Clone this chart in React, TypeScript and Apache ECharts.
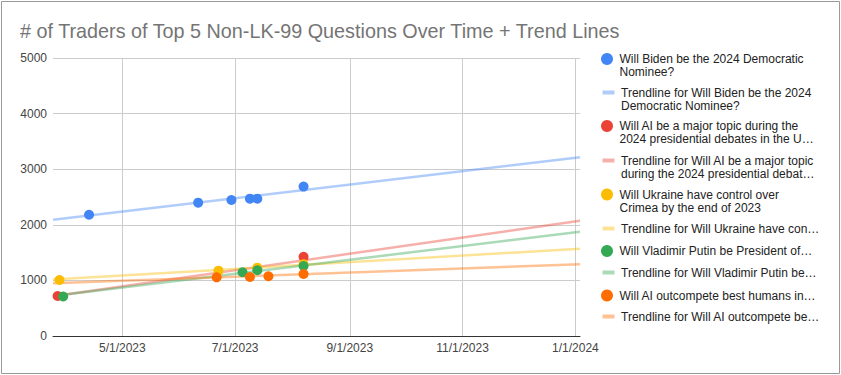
import React, { useEffect, useRef } from 'react';
import * as echarts from 'echarts';

// ---------- data ----------
const questionNames = [
  'Will Biden be the 2024 Democratic Nominee?',
  'Will AI be a major topic during the 2024 presidential debates in the U…',
  'Will Ukraine have control over Crimea by the end of 2023',
  'Will Vladimir Putin be President of…',
  'Will AI outcompete best humans in…',
];

const legendLabels = [
  'Will Biden be the 2024 Democratic\nNominee?',
  'Trendline for Will Biden be the 2024\nDemocratic Nominee?',
  'Will AI be a major topic during the\n2024 presidential debates in the U…',
  'Trendline for Will AI be a major topic\nduring the 2024 presidential debat…',
  'Will Ukraine have control over\nCrimea by the end of 2023',
  'Trendline for Will Ukraine have con…',
  'Will Vladimir Putin be President of…',
  'Trendline for Will Vladimir Putin be…',
  'Will AI outcompete best humans in…',
  'Trendline for Will AI outcompete be…',
];

const bidenDates = ['2023-04-13', '2023-06-11', '2023-06-29', '2023-07-09', '2023-07-13', '2023-08-07'];
const bidenValues = [2180, 2398, 2446, 2470, 2470, 2688];

const aiDebateDates = ['2023-03-27', '2023-08-07'];
const aiDebateValues = [719, 1426];

const ukraineDates = ['2023-03-28', '2023-06-22', '2023-07-13', '2023-08-07'];
const ukraineValues = [1007, 1175, 1229, 1292];

const putinDates = ['2023-03-30', '2023-07-05', '2023-07-13', '2023-08-07'];
const putinValues = [710, 1146, 1182, 1259];

const aiCompeteDates = ['2023-06-21', '2023-07-09', '2023-07-19', '2023-08-07'];
const aiCompeteValues = [1055, 1061, 1074, 1115];

// trend line values at the start and the end of the date axis
const trendStartValues = [2090, 715, 1015, 720, 950];
const trendEndValues = [3214, 2074, 1570, 1876, 1290];

const axisStartDate = '2023-03-24';
const axisEndDate = '2024-01-03';
const tickDates = ['2023-05-01', '2023-07-01', '2023-09-01', '2023-11-01', '2024-01-01'];
const yMax = 5000;
const yStep = 1000;

const titleText = '# of Traders of Top 5 Non-LK-99 Questions Over Time + Trend Lines';

// ---------- styles ----------
const dotColors = ['#4285F4', '#EA4335', '#FBBC04', '#34A853', '#FF6D01'];
const trendColors = [
  'rgba(66,133,244,0.42)',
  'rgba(234,67,53,0.42)',
  'rgba(251,188,4,0.42)',
  'rgba(52,168,83,0.42)',
  'rgba(255,109,1,0.42)',
];
const legendCenters = [59, 92.5, 126, 160.5, 194.5, 228.5, 251, 272.5, 295.5, 316.5];
const FONT = '"Liberation Sans", Arial, sans-serif';

function ts(s: string, hour = 0): number {
  const [y, m, d] = s.split('-').map(Number);
  return new Date(y, m - 1, d, hour).getTime();
}

function fmtDate(v: number): string {
  const d = new Date(v);
  return `${d.getMonth() + 1}/${d.getDate()}/${d.getFullYear()}`;
}

export default function App() {
  const ref = useRef<HTMLDivElement>(null);

  useEffect(() => {
    if (!ref.current) return;
    const chart = echarts.init(ref.current, undefined, { renderer: 'svg' });

    const xMin = ts(axisStartDate, 12);
    const xMax = ts(axisEndDate, 12);
    const tickValues = tickDates.map((d) => ts(d));

    const dateLists = [bidenDates, aiDebateDates, ukraineDates, putinDates, aiCompeteDates];
    const valueLists = [bidenValues, aiDebateValues, ukraineValues, putinValues, aiCompeteValues];

    const series: any[] = [];
    const itemNames: string[] = [];
    questionNames.forEach((name, i) => {
      const trendName = 'Trendline for ' + name;
      itemNames.push(name, trendName);
      series.push({
        name: trendName,
        type: 'line',
        z: 2,
        symbol: 'none',
        silent: true,
        data: [
          [xMin, trendStartValues[i]],
          [xMax, trendEndValues[i]],
        ],
        itemStyle: { color: trendColors[i] },
        lineStyle: { color: trendColors[i], width: 2.5 },
      });
    });
    questionNames.forEach((name, i) => {
      series.push({
        name,
        type: 'scatter',
        z: 3,
        symbol: 'circle',
        symbolSize: 10,
        data: dateLists[i].map((d, j) => [ts(d), valueLists[i][j]]),
        itemStyle: { color: dotColors[i], opacity: 1 },
      });
    });

    const trendIcon = 'path://M0,0M15,12M1.5,4L13.5,4L13.5,8L1.5,8Z';

    const legends = legendLabels.map((label, i) => {
      const twoLine = label.indexOf('\n') >= 0;
      // a leading empty line keeps the first text line level with the icon
      const shown = twoLine ? '\n' + label : label;
      return {
        left: 601,
        top: legendCenters[i] - (twoLine ? 19.5 : 6.5),
        orient: 'vertical',
        padding: 0,
        itemWidth: 15,
        itemHeight: 12,
        selectedMode: false,
        data: [
          {
            name: itemNames[i],
            icon: i % 2 === 0 ? 'circle' : trendIcon,
            itemStyle: { borderWidth: 0 },
          },
        ],
        formatter: () => shown,
        textStyle: {
          fontFamily: FONT,
          fontSize: 12,
          lineHeight: 13,
          color: '#222222',
        },
      };
    });

    chart.setOption({
      animation: false,
      backgroundColor: '#ffffff',
      textStyle: { fontFamily: FONT },
      title: {
        text: titleText,
        left: 20,
        top: 21,
        padding: 0,
        textStyle: { fontFamily: FONT, fontSize: 19.8, fontWeight: 'normal', color: '#757575' },
      },
      graphic: [
        {
          type: 'rect',
          shape: { x: 1.5, y: 1.5, width: 838, height: 372 },
          style: { fill: 'none', stroke: '#9a9a9a', lineWidth: 1 },
          silent: true,
          z: -10,
        },
      ],
      legend: legends,
      grid: { left: 53, right: 261, top: 58, bottom: 39, containLabel: false, outerBoundsMode: 'none' },
      xAxis: {
        type: 'value',
        min: xMin,
        max: xMax,
        axisLine: { show: true, onZero: false, lineStyle: { color: '#333333', width: 1 } },
        axisTick: { show: false, customValues: tickValues },
        axisLabel: {
          customValues: tickValues,
          formatter: (v: number) => fmtDate(v),
          color: '#444444',
          fontSize: 12,
          fontFamily: FONT,
          margin: 6,
          hideOverlap: false,
          showMinLabel: true,
          showMaxLabel: true,
        },
        splitLine: { show: true, lineStyle: { color: '#cccccc', width: 1 } },
      },
      yAxis: {
        type: 'value',
        min: 0,
        max: yMax,
        interval: yStep,
        axisLine: { show: false },
        axisTick: { show: false },
        axisLabel: {
          color: '#444444',
          fontSize: 12,
          fontFamily: FONT,
          margin: 6,
          formatter: (v: number) => String(v),
        },
        splitLine: { show: true, lineStyle: { color: '#cccccc', width: 1 } },
      },
      series,
    });

    return () => chart.dispose();
  }, []);

  return (
    <div style={{ position: 'fixed', left: 0, top: 0, width: 841, height: 375, background: '#fff' }}>
      <div ref={ref} style={{ width: 841, height: 375 }} />
    </div>
  );
}
